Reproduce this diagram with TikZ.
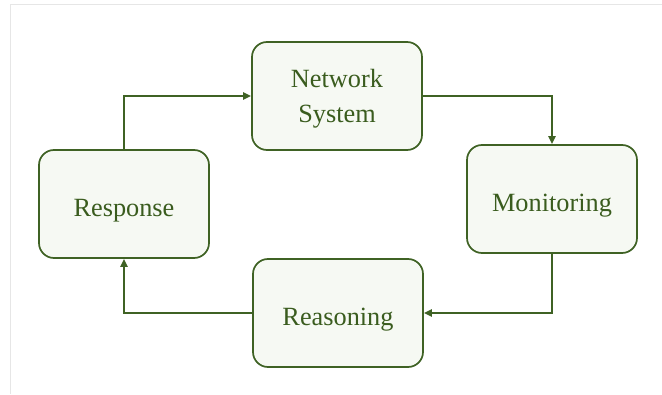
\documentclass[tikz,border=0pt]{standalone}
\usepackage{fontspec}
\setmainfont{Liberation Serif}
\usetikzlibrary{arrows.meta}
\definecolor{edgegreen}{HTML}{3F6224}
\definecolor{textgreen}{HTML}{3A5C1E}
\definecolor{fillgreen}{HTML}{F6F9F3}
\definecolor{framegray}{HTML}{E6E6E6}
\begin{document}
\begin{tikzpicture}[x=1pt,y=1pt,
  stagebox/.style={draw=edgegreen, line width=1.7pt, fill=fillgreen, rounded corners=15pt,
    minimum width=170pt, minimum height=108pt, text=textgreen, align=center,
    font=\fontsize{26.3}{34.5}\selectfont, inner sep=0pt, text depth=0pt},
  oneline/.style={text height=25pt},
  flow/.style={draw=edgegreen, line width=2pt, -{Triangle[length=8pt,width=7pt]}}]
\useasboundingbox (0,0) rectangle (662,394);
\draw[framegray, line width=1pt] (10,0) -- (10,389) -- (662,389);
\node[stagebox] (net) at (337,298) {Network\\System};
\node[stagebox, oneline] (resp) at (124,190) {Response};
\node[stagebox, oneline] (mon) at (552,195) {Monitoring};
\node[stagebox, oneline] (reas) at (338,81) {Reasoning};
\draw[flow] (resp.north) |- (net.west);
\draw[flow] (net.east) -| (mon.north);
\draw[flow] (mon.south) |- (reas.east);
\draw[flow] (reas.west) -| (resp.south);
\end{tikzpicture}
\end{document}
